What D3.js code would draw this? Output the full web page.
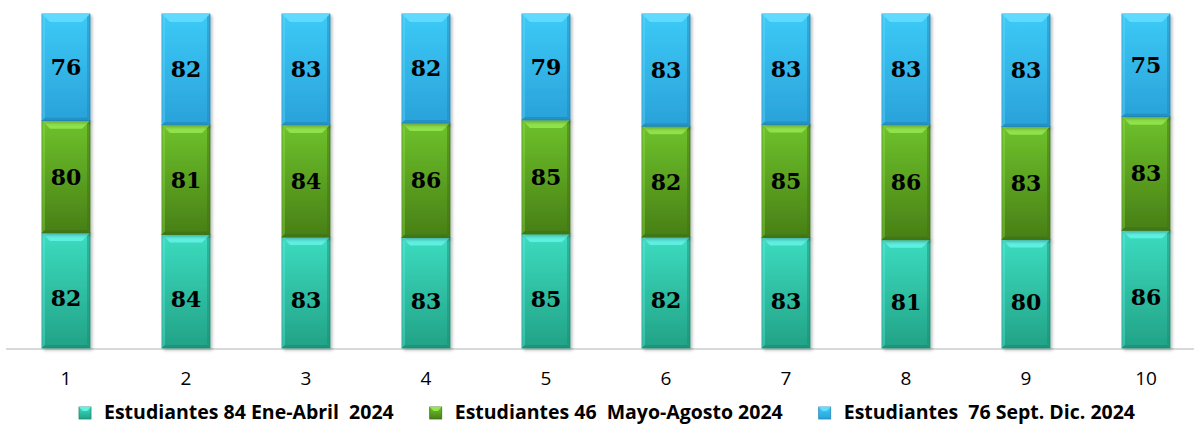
<!DOCTYPE html>
<html>
<head>
<meta charset="utf-8">
<script src="https://cdn.jsdelivr.net/npm/d3@7/dist/d3.min.js"></script>
<style>
  html, body { margin: 0; padding: 0; background: #fff; }
  #chart { width: 1194px; height: 426px; }
</style>
</head>
<body>
<div id="chart"></div>
<script>
const categories = ['1', '2', '3', '4', '5', '6', '7', '8', '9', '10'];
const eneAbril = [82, 84, 83, 83, 85, 82, 83, 81, 80, 86];
const mayoAgosto = [80, 81, 84, 86, 85, 82, 85, 86, 83, 83];
const septDic = [76, 82, 83, 82, 79, 83, 83, 83, 83, 75];
const seriesNames = [
  'Estudiantes 84 Ene-Abril  2024',
  'Estudiantes 46  Mayo-Agosto 2024',
  'Estudiantes  76 Sept. Dic. 2024'
];

// colours per series: top bevel, body top, body bottom, edge
const palette = [
  { bevel: '#62f2e4', top: '#3cdcc0', bottom: '#22a286', edge: '#1b8c74' },
  { bevel: '#93e64c', top: '#6ec22c', bottom: '#487f16', edge: '#3d7212' },
  { bevel: '#66dcff', top: '#3ccaf6', bottom: '#2aa2da', edge: '#1f86b8' }
];

const width = 1194, height = 426;
const plot = { left: 6, right: 1206, top: 14, bottom: 348 };

const rows = categories.map((c, i) => ({
  cat: c, s0: eneAbril[i], s1: mayoAgosto[i], s2: septDic[i]
}));
const keys = ['s0', 's1', 's2'];
const stacked = d3.stack().keys(keys).offset(d3.stackOffsetExpand)(rows);

const svg = d3.select('#chart').append('svg')
  .attr('width', width).attr('height', height);

const defs = svg.append('defs');
palette.forEach((p, i) => {
  const g = defs.append('linearGradient').attr('id', 'grad' + i)
    .attr('x1', 0).attr('y1', 0).attr('x2', 0).attr('y2', 1);
  g.append('stop').attr('offset', '0%').attr('stop-color', p.top);
  g.append('stop').attr('offset', '100%').attr('stop-color', p.bottom);
});
const shadow = defs.append('filter').attr('id', 'shadow')
  .attr('x', '-20%').attr('y', '-5%').attr('width', '150%').attr('height', '115%');
shadow.append('feDropShadow').attr('dx', 2).attr('dy', 2).attr('stdDeviation', 1.5)
  .attr('flood-color', '#000').attr('flood-opacity', 0.25);

const x = d3.scaleBand().domain(categories).range([plot.left, plot.right]).paddingInner(0.6).paddingOuter(0.3);
const y = d3.scaleLinear().domain([0, 1]).range([plot.bottom, plot.top]);

// axis line
svg.append('line')
  .attr('x1', 6).attr('x2', width).attr('y1', plot.bottom + 1).attr('y2', plot.bottom + 1)
  .attr('stroke', '#d9d9d9').attr('stroke-width', 2);

const bw = x.bandwidth();
const bevel = 8;

stacked.forEach((layer, si) => {
  const p = palette[si];
  const g = svg.append('g');
  layer.forEach((d, i) => {
    const x0 = x(categories[i]);
    const yTop = y(d[1]), yBot = y(d[0]);
    const h = yBot - yTop;
    const seg = g.append('g').attr('filter', 'url(#shadow)');
    seg.append('rect')
      .attr('x', x0).attr('y', yTop).attr('width', bw).attr('height', h)
      .attr('fill', `url(#grad${si})`)
      .attr('stroke', p.edge).attr('stroke-width', 0.8);
    // top bevel
    seg.append('path')
      .attr('d', `M${x0},${yTop} L${x0 + bw},${yTop} L${x0 + bw - bevel},${yTop + bevel} L${x0 + bevel},${yTop + bevel} Z`)
      .attr('fill', p.bevel).attr('opacity', 0.9);
    // side bevels
    seg.append('path')
      .attr('d', `M${x0},${yTop} L${x0 + 3},${yTop + 3} L${x0 + 3},${yBot - 3} L${x0},${yBot} Z`)
      .attr('fill', p.bevel).attr('opacity', 0.35);
    seg.append('path')
      .attr('d', `M${x0 + bw},${yTop} L${x0 + bw - 3},${yTop + 3} L${x0 + bw - 3},${yBot - 3} L${x0 + bw},${yBot} Z`)
      .attr('fill', p.edge).attr('opacity', 0.45);
    // bottom bevel
    seg.append('path')
      .attr('d', `M${x0},${yBot} L${x0 + bw},${yBot} L${x0 + bw - 3},${yBot - 3} L${x0 + 3},${yBot - 3} Z`)
      .attr('fill', p.edge).attr('opacity', 0.6);
  });
});

// value labels
const values = [eneAbril, mayoAgosto, septDic];
stacked.forEach((layer, si) => {
  svg.append('g').selectAll('text').data(layer).join('text')
    .attr('x', (d, i) => x(categories[i]) + bw / 2)
    .attr('y', d => (y(d[0]) + y(d[1])) / 2 + (si === 0 ? 8 : 0))
    .attr('text-anchor', 'middle').attr('dy', '0.36em')
    .style('font-family', '"DejaVu Serif", serif').style('font-weight', 'bold')
    .style('font-size', '22px').attr('fill', '#000')
    .text((d, i) => values[si][i]);
});

// category axis labels
const xAxis = svg.append('g')
  .attr('transform', `translate(0,${plot.bottom})`)
  .call(d3.axisBottom(x).tickSize(0).tickPadding(24));
xAxis.select('.domain').remove();
xAxis.selectAll('.tick text')
  .style('font-family', '"Open Sans", sans-serif').style('font-size', '19px').attr('fill', '#000');

// legend
const legend = svg.append('g').attr('transform', 'translate(0,412)');
const items = legend.selectAll('g').data(seriesNames).join('g');
items.append('rect')
  .attr('x', 0).attr('y', -5).attr('width', 12).attr('height', 12)
  .attr('fill', (d, i) => `url(#grad${i})`).attr('stroke', (d, i) => palette[i].edge).attr('stroke-width', 0.8);
items.append('path')
  .attr('d', 'M0,-5 L12,-5 L8,-1 L4,-1 Z')
  .attr('fill', (d, i) => palette[i].bevel);
items.append('text')
  .attr('x', 25).attr('dy', '0.35em')
  .style('font-family', '"Open Sans", sans-serif').style('font-weight', 'bold')
  .style('font-size', '19.5px').attr('fill', '#000')
  .style('white-space', 'pre')
  .text(d => d);

let widths = [];
items.each(function () { widths.push(this.getBBox().width); });
const gap = 36;
const total = d3.sum(widths) + gap * (widths.length - 1);
let cursor = 607 - total / 2;
items.attr('transform', (d, i) => {
  const t = `translate(${cursor},0)`;
  cursor += widths[i] + gap;
  return t;
});
</script>
</body>
</html>
